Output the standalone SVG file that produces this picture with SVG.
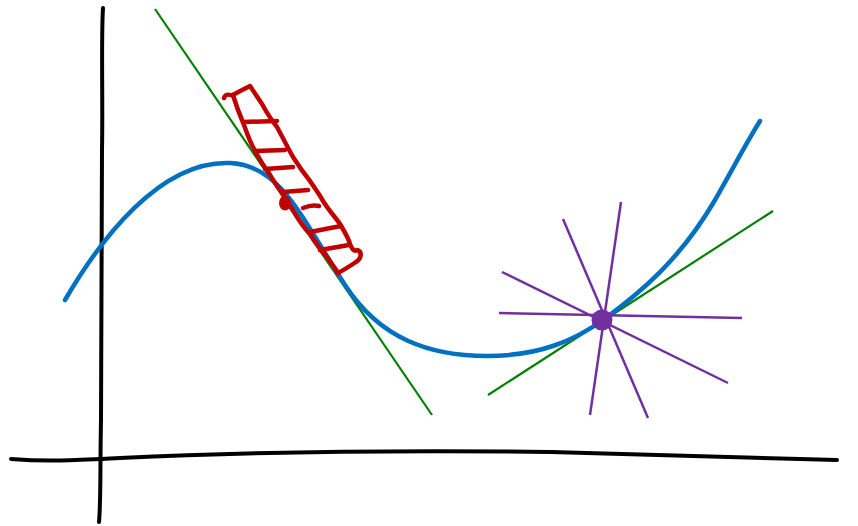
<svg xmlns="http://www.w3.org/2000/svg" width="858" height="526" viewBox="0 0 858 526">
<style>
.ax{fill:none;stroke:#000;stroke-width:4;stroke-linecap:round}
.tan{fill:none;stroke:#008000;stroke-width:2.2}
.curve{fill:none;stroke:#0070c0;stroke-width:4.5;stroke-linecap:round}
.lad{fill:none;stroke:#c00000;stroke-width:4.5;stroke-linecap:round;stroke-linejoin:round}
.ray{stroke:#7030a0;stroke-width:2.5}
</style>
<rect width="858" height="526" fill="#fff"/>
<g id="axes">
<path class="ax" d="M103,8 C101,40 103,100 102,150 C101,250 101,350 101,420 C100,470 101,500 99,522"/>
<path class="ax" d="M11,459 C50,462 80,460 120,458 C250,452 400,450 550,452 C650,454 750,458 837,460"/>
</g>
<g id="tangents">
<line class="tan" x1="155" y1="9" x2="432" y2="415"/>
<line class="tan" x1="488" y1="395" x2="773" y2="211"/>
</g>
<g id="curve">
<path class="curve" d="M65,300 C100,240 160,160 230,163 C280,165 300,215 345,285 C380,339 430,356 487,356 C540,356 575,340 603,320 C640,293 680,260 715,200 C735,165 745,145 760,121"/>
</g>
<g id="ladder">
<path class="lad" d="M224,98 C226,92 230,96 233,95 C238,92 244,89 250,86 C254,92 258,98 262,104 C268,115 273,122 277,127 C284,140 288,148 293,157 C300,168 306,176 310,181 C316,190 320,195 323,201 C330,212 336,218 340,224 C346,234 349,240 350,244 C352,249 354,252 357,250 C363,252 361,259 356,262 C350,266 344,270 338,273"/>
<path class="lad" d="M233,95 C236,105 239,113 242,120 C246,130 249,140 253,147 C258,156 262,164 267,170 C272,178 276,185 280,190 C285,198 290,206 294,212 C300,222 305,229 310,234 C316,244 321,250 327,257 C331,263 335,268 338,273"/>
<path class="lad" d="M243,122 L277,121 M255,151 L285,150 M265,169 L293,167 M283,192 L308,190 M303,208 C308,206 314,205 319,206 M310,232 L341,226 M320,250 L349,245"/>
<ellipse cx="285" cy="203" rx="6" ry="7.5" fill="#c00000"/>
</g>
<g id="star">
<line class="ray" x1="621" y1="202" x2="590" y2="415"/>
<line class="ray" x1="563" y1="219" x2="648" y2="418"/>
<line class="ray" x1="502" y1="272" x2="728" y2="383"/>
<line class="ray" x1="499" y1="313" x2="742" y2="318"/>
<circle cx="602" cy="320" r="10.5" fill="#7030a0"/>
</g>
</svg>
